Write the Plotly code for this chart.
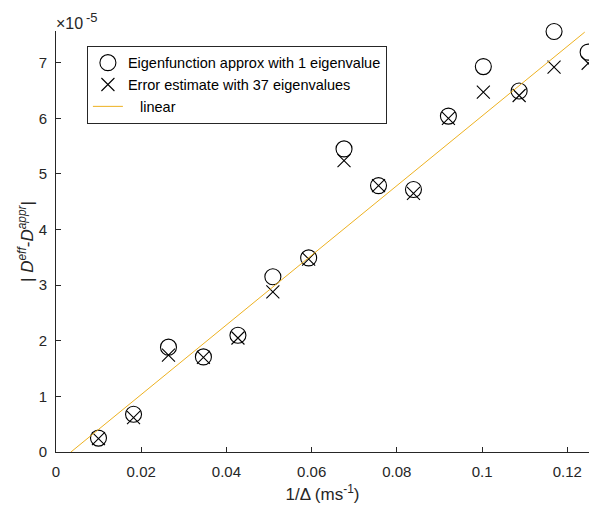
import plotly.graph_objects as go

# 1/Delta values (ms^-1)
inv_delta = [0.00997, 0.0182, 0.0264, 0.0346, 0.0427, 0.0509, 0.0593, 0.0676,
             0.0757, 0.0839, 0.0921, 0.1003, 0.1087, 0.1169, 0.1249]
# |D_eff - D_appr| in units of 1e-5
err_1eig = [0.25, 0.68, 1.885, 1.71, 2.10, 3.15, 3.49, 5.45,
            4.79, 4.72, 6.04, 6.93, 6.49, 7.56, 7.19]
err_37eig = [0.24, 0.62, 1.74, 1.70, 2.05, 2.88, 3.47, 5.24,
             4.79, 4.65, 6.00, 6.47, 6.41, 6.92, 6.99]
# linear fit endpoints
lin_x = [0.0035, 0.1241]
lin_y = [0.0, 7.55]

xticks = [0, 0.02, 0.04, 0.06, 0.08, 0.1, 0.12]
xticklabels = ["0", "0.02", "0.04", "0.06", "0.08", "0.1", "0.12"]
yticks = [0, 1, 2, 3, 4, 5, 6, 7]

FONT = "Liberation Sans, Arial, sans-serif"
DARK = "#262626"

fig = go.Figure()
fig.add_trace(go.Scatter(
    x=inv_delta, y=err_1eig, mode="markers",
    name="Eigenfunction approx with 1 eigenvalue",
    marker=dict(symbol="circle-open", size=16, color="black", line=dict(width=1.1)),
    cliponaxis=False))
fig.add_trace(go.Scatter(
    x=inv_delta, y=err_37eig, mode="markers",
    name="Error estimate with 37 eigenvalues",
    marker=dict(symbol="x-thin-open", size=13, color="black", line=dict(width=1.1, color="black")),
    cliponaxis=False))
fig.add_trace(go.Scatter(
    x=lin_x, y=lin_y, mode="lines",
    name="\u00a0\u00a0 linear",
    line=dict(color="#EDB120", width=1)))

fig.update_layout(
    width=589, height=510,
    margin=dict(l=56, r=0, t=31, b=58),
    paper_bgcolor="white", plot_bgcolor="white",
    font=dict(family=FONT, size=15, color=DARK),
    showlegend=True,
    legend=dict(x=0.058, y=0.965, xanchor="left", yanchor="top",
                bgcolor="white", bordercolor=DARK, borderwidth=1,
                font=dict(size=14.5, color="black"), tracegroupgap=0,
                itemwidth=30),
    xaxis=dict(range=[0, 0.1251], tickvals=xticks, ticktext=xticklabels,
               ticks="inside", ticklen=5, tickcolor=DARK, showline=True,
               linecolor=DARK, linewidth=1, showgrid=False, zeroline=False,
               mirror=False, ticklabelstandoff=6, tickfont=dict(size=15),
               title=dict(text="1/\u0394 (ms<sup>-1</sup>)", standoff=9,
                          font=dict(size=17))),
    yaxis=dict(range=[0, 7.57], tickvals=yticks,
               ticks="inside", ticklen=5, tickcolor=DARK, showline=True,
               linecolor=DARK, linewidth=1, showgrid=False, zeroline=False,
               mirror=False, ticklabelstandoff=5, tickfont=dict(size=15),
               title=dict(text="| <i>D</i><sup><i>eff</i></sup>-<i>D</i><sup><i>appr</i></sup>|",
                          standoff=0, font=dict(size=17))),
)
# axis exponent label: "×10" with superscript "-5"
fig.add_annotation(x=0, y=1, xref="paper", yref="paper", xanchor="left",
                   yanchor="middle", xshift=-2, yshift=8, showarrow=False,
                   text="\u00d710", font=dict(size=16, color=DARK))
fig.add_annotation(x=0, y=1, xref="paper", yref="paper", xanchor="left",
                   yanchor="middle", xshift=28, yshift=14, showarrow=False,
                   text="-5", font=dict(size=13, color=DARK))

fig.write_html("out.html")
